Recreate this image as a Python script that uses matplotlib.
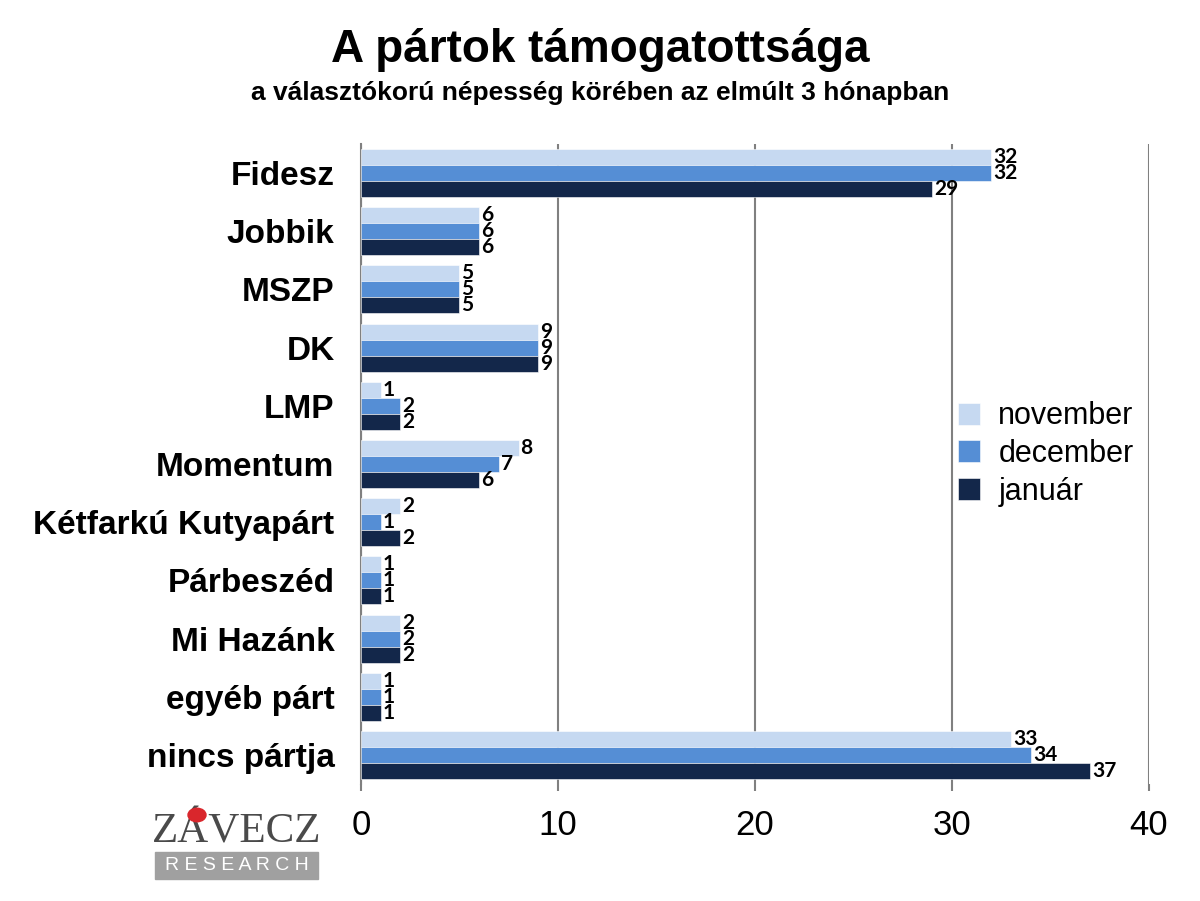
import matplotlib
matplotlib.use("Agg")
import matplotlib.pyplot as plt
import numpy as np
from matplotlib.patches import Rectangle, Circle

categories = ["Fidesz", "Jobbik", "MSZP", "DK", "LMP", "Momentum",
              "Kétfarkú Kutyapárt", "Párbeszéd", "Mi Hazánk", "egyéb párt",
              "nincs pártja"]
series_names = ["november", "december", "január"]
november = [32, 6, 5, 9, 1, 8, 2, 1, 2, 1, 33]
december = [32, 6, 5, 9, 2, 7, 1, 1, 2, 1, 34]
januar = [29, 6, 5, 9, 2, 6, 2, 1, 2, 1, 37]
series = [november, december, januar]
colors = ["#C6D9F1", "#558ED5", "#13274A"]
xticks = [0, 10, 20, 30, 40]

fig = plt.figure(figsize=(12, 9.01), dpi=100)
ax = fig.add_axes([0.3008, 0.1299, 0.6567, 0.7103])

y = np.arange(len(categories))
h = 0.275
offsets = [-h, 0, h]
for vals, off, col, name in zip(series, offsets, colors, series_names):
    ax.barh(y + off, vals, height=h, color=col, label=name,
            edgecolor="white", linewidth=0.4, zorder=3)
    for v, yy in zip(vals, y + off):
        ax.text(v + 0.1, yy, str(v), va="center", ha="left",
                fontsize=15, fontweight="bold", family=["Lato", "DejaVu Sans"],
                color="black", zorder=4)

ax.set_ylim(len(categories) - 0.5, -0.5)
ax.set_xlim(0, 40)
ax.set_yticks(y)
ax.set_yticklabels(categories, fontsize=24, fontweight="bold",
                   family=["Liberation Sans", "DejaVu Sans"])
ax.tick_params(axis="y", length=0, pad=19)
ax.set_xticks(xticks)
ax.set_xticklabels([str(t) for t in xticks], fontsize=25,
                   family=["Liberation Sans", "DejaVu Sans"])
ax.tick_params(axis="x", length=5, color="#808080", width=1.5, pad=13)
ax.grid(axis="x", color="#808080", linewidth=1.5, zorder=0)
ax.set_axisbelow(True)
for s in ["top", "right", "bottom"]:
    ax.spines[s].set_visible(False)
ax.spines["left"].set_color("#808080")
ax.spines["left"].set_linewidth(1.5)

fig.legend(loc="center left", bbox_to_anchor=(958 / 1200, 1 - 454 / 901),
           frameon=False, borderpad=0, borderaxespad=0,
           handlelength=0.72, handleheight=0.72, handletextpad=0.6,
           labelspacing=0.25, prop={"family": ["Liberation Sans", "DejaVu Sans"], "size": 22})

fig.text(0.5, 1 - 50 / 901, "A pártok támogatottsága", ha="center", va="center",
         fontsize=33, fontweight="bold", family=["Liberation Sans", "DejaVu Sans"])
fig.text(0.5, 1 - 93 / 901, "a választókorú népesség körében az elmúlt 3 hónapban",
         ha="center", va="center", fontsize=19, fontweight="bold",
         family=["Liberation Sans", "DejaVu Sans"])

# logo
fig.patches.append(Rectangle((155 / 1200, 1 - 879 / 901), 163 / 1200, 27 / 901,
                             transform=fig.transFigure, color="#A0A0A0", zorder=1))
fig.text(237 / 1200, 1 - 866 / 901, "R E S E A R C H", ha="center", va="center",
         fontsize=14, color="white", family=["Liberation Sans", "DejaVu Sans"])
fig.text(237 / 1200, 1 - 832 / 901, "ZÁVECZ", ha="center", va="center",
         fontsize=31, color="#4A4A4A", family=["Liberation Serif", "DejaVu Serif"])
fig.patches.append(Circle((197 / 1200, 1 - 815 / 901), 0.0075,
                          transform=fig.transFigure, color="#D9262C", zorder=5))

fig.savefig("out.png", dpi=100)
